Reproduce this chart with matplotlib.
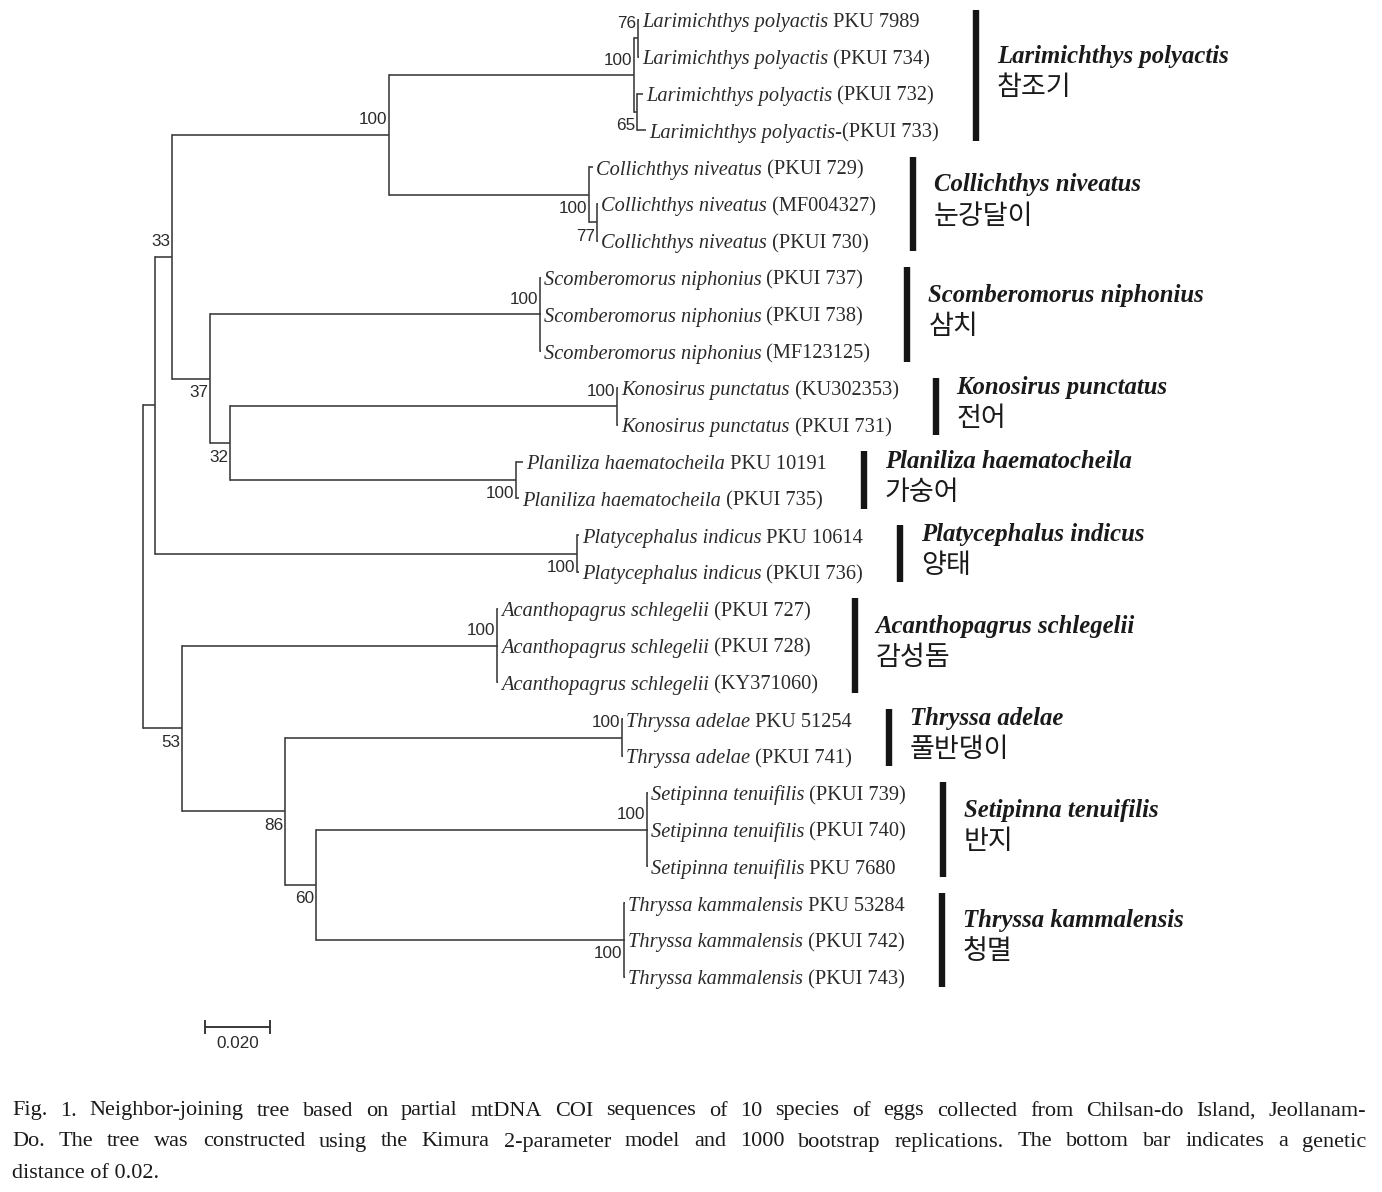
import matplotlib
matplotlib.use('Agg')
import matplotlib.pyplot as plt
import matplotlib.transforms as mtransforms

# ------------------------------------------------------------------ data
leaf_genus = [
    'Larimichthys polyactis', 'Larimichthys polyactis', 'Larimichthys polyactis',
    'Larimichthys polyactis-',
    'Collichthys niveatus', 'Collichthys niveatus', 'Collichthys niveatus',
    'Scomberomorus niphonius', 'Scomberomorus niphonius', 'Scomberomorus niphonius',
    'Konosirus punctatus', 'Konosirus punctatus',
    'Planiliza haematocheila', 'Planiliza haematocheila',
    'Platycephalus indicus', 'Platycephalus indicus',
    'Acanthopagrus schlegelii', 'Acanthopagrus schlegelii', 'Acanthopagrus schlegelii',
    'Thryssa adelae', 'Thryssa adelae',
    'Setipinna tenuifilis', 'Setipinna tenuifilis', 'Setipinna tenuifilis',
    'Thryssa kammalensis', 'Thryssa kammalensis', 'Thryssa kammalensis',
]
leaf_acc = [
    ' PKU 7989', ' (PKUI 734)', ' (PKUI 732)', '(PKUI 733)',
    ' (PKUI 729)', ' (MF004327)', ' (PKUI 730)',
    ' (PKUI 737)', ' (PKUI 738)', ' (MF123125)',
    ' (KU302353)', ' (PKUI 731)',
    ' PKU 10191', ' (PKUI 735)',
    ' PKU 10614', ' (PKUI 736)',
    ' (PKUI 727)', ' (PKUI 728)', ' (KY371060)',
    ' PKU 51254', ' (PKUI 741)',
    ' (PKUI 739)', ' (PKUI 740)', ' PKU 7680',
    ' PKU 53284', ' (PKUI 742)', ' (PKUI 743)',
]
leaf_parent = ['n76', 'n76', 'n65', 'n65',
               'Colli', 'n77', 'n77',
               'Scomb', 'Scomb', 'Scomb',
               'Kono', 'Kono',
               'Plan', 'Plan',
               'Platy', 'Platy',
               'Acan', 'Acan', 'Acan',
               'Thad', 'Thad',
               'Seti', 'Seti', 'Seti',
               'Tkam', 'Tkam', 'Tkam']
leaf_length = [0.0003, 0.0003, 0.0018, 0.0028,
               0.0012, 0.0003, 0.0003,
               0.0003, 0.0003, 0.0003,
               0.0003, 0.0003,
               0.0022, 0.0009,
               0.0006, 0.0006,
               0.0003, 0.0003, 0.0003,
               0.0003, 0.0003,
               0.0003, 0.0003, 0.0003,
               0.0003, 0.0003, 0.0003]

node_names = ['root', 'A', 'B', 'C', 'Lari', 'n76', 'n65', 'Colli', 'n77',
              'D', 'Scomb', 'E', 'Kono', 'Plan', 'Platy',
              'F', 'Acan', 'G', 'Thad', 'H', 'Seti', 'Tkam']
node_parent = [None, 'root', 'A', 'B', 'C', 'Lari', 'Lari', 'C', 'Colli',
               'B', 'D', 'D', 'E', 'E', 'A',
               'root', 'F', 'F', 'G', 'G', 'H', 'H']
node_length = [0.0, 0.0037, 0.0052, 0.0668, 0.0754, 0.0012, 0.0009, 0.0615, 0.0025,
               0.0117, 0.1015, 0.0062, 0.1191, 0.0880, 0.1298,
               0.0120, 0.0969, 0.0317, 0.1037, 0.0095, 0.1018, 0.0948]
node_boot = [None, None, 33, 100, 100, 76, 65, 100, 77,
             37, 100, 32, 100, 100, 100,
             53, 100, 86, 100, 60, 100, 100]
boot_side = [None, None, 'up', 'up', 'up', 'up', 'down', 'down', 'down',
             'down', 'up', 'down', 'up', 'down', 'down',
             'down', 'up', 'down', 'up', 'down', 'up', 'down']

species_names = ['Larimichthys polyactis', 'Collichthys niveatus',
                 'Scomberomorus niphonius', 'Konosirus punctatus',
                 'Planiliza haematocheila', 'Platycephalus indicus',
                 'Acanthopagrus schlegelii', 'Thryssa adelae',
                 'Setipinna tenuifilis', 'Thryssa kammalensis']
species_korean = ['참조기', '눈강달이', '삼치', '전어', '가숭어', '양태',
                  '감성돔', '풀반댕이', '반지', '청멸']
species_first_leaf = [0, 4, 7, 10, 12, 14, 16, 19, 21, 24]
species_last_leaf = [3, 6, 9, 11, 13, 15, 18, 20, 23, 26]

scale_length = 0.02
scale_label = '0.020'

caption_lines = [
    'Fig. 1. Neighbor-joining tree based on partial mtDNA COI sequences of 10 species of eggs collected from Chilsan-do Island, Jeollanam-',
    'Do. The tree was constructed using the Kimura 2-parameter model and 1000 bootstrap replications. The bottom bar indicates a genetic',
    'distance of 0.02.',
]

# ------------------------------------------------------------------ layout
DPI = 100
W, H = 1382, 1192
PX_PER_UNIT = 3250.0       # pixels per unit genetic distance
ROOT_PX = 143.0            # x pixel of root
LEAF0_PX = 20.0            # y pixel of first leaf
LEAF_STEP = 36.8           # pixel spacing between leaves
TREE_COLOR = '#383838'
TEXT_COLOR = '#2a2a2a'
SERIF = ['Liberation Serif', 'DejaVu Serif']
SANS = ['Liberation Sans', 'DejaVu Sans']
LEAF_FS = 14.7
BOOT_FS = 12.3
SPEC_FS = 17.8
KOR_FS = 19.5
CAP_FS = 16.0

fig = plt.figure(figsize=(W / DPI, H / DPI), dpi=DPI)
fig.patch.set_facecolor('white')
ax = fig.add_axes([0, 0, 1, 1])
ax.set_xlim(-ROOT_PX / PX_PER_UNIT, (W - ROOT_PX) / PX_PER_UNIT)
ax.set_ylim((H - LEAF0_PX) / LEAF_STEP, -LEAF0_PX / LEAF_STEP)
ax.axis('off')
renderer = fig.canvas.get_renderer()


def off(dx_px=0.0, dy_px=0.0):
    return mtransforms.offset_copy(ax.transData, fig=fig, x=dx_px * 72.0 / DPI,
                                   y=dy_px * 72.0 / DPI, units='points')


# ------------------------------------------------------------------ tree geometry
children = {n: [] for n in node_names}
for n, p in zip(node_names, node_parent):
    if p is not None:
        children[p].append(('node', n))
for i, p in enumerate(leaf_parent):
    children[p].append(('leaf', i))

node_x, node_y = {}, {}
leaf_x = [0.0] * len(leaf_genus)
nlen = dict(zip(node_names, node_length))


def place(name, x):
    node_x[name] = x
    ys = []
    for kind, c in children[name]:
        if kind == 'leaf':
            leaf_x[c] = x + leaf_length[c]
            ys.append(float(c))
        else:
            place(c, x + nlen[c])
            ys.append(node_y[c])
    node_y[name] = (min(ys) + max(ys)) / 2.0


place('root', 0.0)

lw = 1.15
for name in node_names:
    ys = []
    for kind, c in children[name]:
        if kind == 'leaf':
            cx, cy = leaf_x[c], float(c)
        else:
            cx, cy = node_x[c], node_y[c]
        ys.append(cy)
        ax.plot([node_x[name], cx], [cy, cy], color=TREE_COLOR, lw=lw,
                solid_capstyle='butt')
    ax.plot([node_x[name], node_x[name]], [min(ys), max(ys)], color=TREE_COLOR,
            lw=lw, solid_capstyle='projecting')

# bootstrap values
for name, b, side in zip(node_names, node_boot, boot_side):
    if b is None:
        continue
    dy = 15 if side == 'up' else -14
    ax.text(node_x[name], node_y[name], str(b), transform=off(-2, dy),
            ha='right', va='center', fontsize=BOOT_FS,
            family=SANS, color=TEXT_COLOR)

# leaf labels (italic species + regular accession)
leaf_right_px = []
for i in range(len(leaf_genus)):
    base_dy = -0.36 * LEAF_FS * DPI / 72.0
    t1 = ax.text(leaf_x[i], i, leaf_genus[i], transform=off(3, base_dy),
                 ha='left', va='baseline', fontsize=LEAF_FS, style='italic',
                 family=SERIF, color=TEXT_COLOR)
    bb1 = t1.get_window_extent(renderer)
    t2 = ax.text(leaf_x[i], i, leaf_acc[i], transform=off(3 + bb1.width, base_dy),
                 ha='left', va='baseline', fontsize=LEAF_FS,
                 family=SERIF, color=TEXT_COLOR)
    bb2 = t2.get_window_extent(renderer)
    leaf_right_px.append(bb2.x1)

# species bars and names
inv = ax.transData.inverted()
for k in range(len(species_names)):
    f, l = species_first_leaf[k], species_last_leaf[k]
    right = max(leaf_right_px[f:l + 1]) + 37
    bx = inv.transform((right, 0))[0]
    ax.plot([bx, bx], [f - 0.28, l + 0.28], color='#151515', lw=4.6,
            solid_capstyle='butt')
    c = (f + l) / 2.0
    ax.text(bx, c, species_names[k], transform=off(21, 19), ha='left',
            va='center', fontsize=SPEC_FS, style='italic', weight='bold',
            family=SERIF, color='#1a1a1a')
    ax.text(bx, c, species_korean[k], transform=off(21, -12), ha='left',
            va='center', fontsize=KOR_FS,
            family=['Noto Sans CJK KR', 'DejaVu Sans'], color='#1a1a1a')

# scale bar
sb_x0 = (205 - ROOT_PX) / PX_PER_UNIT
sb_y = (1027 - LEAF0_PX) / LEAF_STEP
ax.plot([sb_x0, sb_x0 + scale_length], [sb_y, sb_y], color=TREE_COLOR, lw=1.4)
for xx in (sb_x0, sb_x0 + scale_length):
    ax.plot([xx, xx], [sb_y - 0.15, sb_y + 0.15], color=TREE_COLOR, lw=1.4)
ax.text(sb_x0 + scale_length / 2, sb_y, scale_label, transform=off(0, -17),
        ha='center', va='center', fontsize=BOOT_FS,
        family=SANS, color=TEXT_COLOR)

# caption (justified)
cap_left, cap_right = 12, 1366
cap_y = [1111, 1142, 1174]
for li, line in enumerate(caption_lines):
    yfig = 1 - cap_y[li] / H
    if li < len(caption_lines) - 1:
        words = line.split(' ')
        widths = []
        texts = []
        for w in words:
            t = fig.text(0, yfig, w, ha='left', va='center', fontsize=CAP_FS,
                         family=SERIF, color='#1a1a1a')
            texts.append(t)
            widths.append(t.get_window_extent(renderer).width)
        gap = (cap_right - cap_left - sum(widths)) / (len(words) - 1)
        xpos = cap_left
        for t, wdt in zip(texts, widths):
            t.set_x(xpos / W)
            xpos += wdt + gap
    else:
        fig.text(cap_left / W, yfig, line, ha='left', va='center',
                 fontsize=CAP_FS, family=SERIF, color='#1a1a1a')

fig.savefig('out.png', dpi=DPI, facecolor='white')
